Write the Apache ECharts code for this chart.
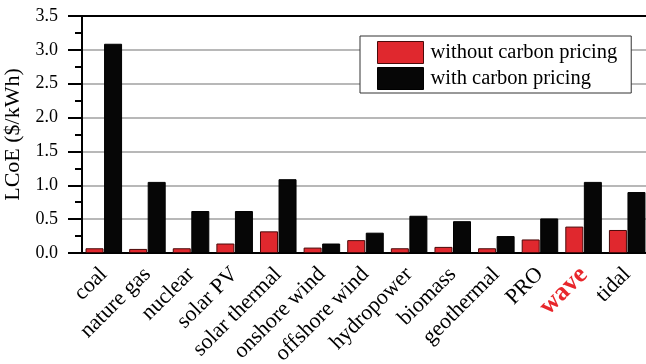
<!DOCTYPE html>
<html><head><meta charset="utf-8">
<script src="https://cdn.jsdelivr.net/npm/echarts@6/dist/echarts.min.js"></script>
<style>html,body{margin:0;padding:0;background:#fff}#c{width:646px;height:364px}</style>
</head><body><div id="c"></div>
<script>
var categories = ['coal','nature gas','nuclear','solar PV','solar thermal','onshore wind','offshore wind','hydropower','biomass','geothermal','PRO','wave','tidal'];
var withoutCarbon = [0.07,0.06,0.07,0.14,0.32,0.08,0.19,0.07,0.09,0.07,0.20,0.39,0.34];
var withCarbon = [3.09,1.05,0.62,0.62,1.09,0.14,0.30,0.55,0.47,0.25,0.51,1.05,0.90];
var seriesNames = ['without carbon pricing','with carbon pricing'];
var yTicks = {min:0, max:3.5, interval:0.5};

var serif = '"Liberation Serif","DejaVu Serif",serif';
var chart = echarts.init(document.getElementById('c'));
chart.setOption({
  animation:false,
  grid:{left:82, top:16, width:567, height:237, containLabel:false, outerBoundsMode:'none'},
  legend:{
    left:360, top:36, orient:'vertical', itemWidth:46, itemHeight:22, itemGap:3,
    icon:'rect',
    padding:[5,14,3,17], backgroundColor:'#fff', borderColor:'#333', borderWidth:1, borderRadius:0,
    textStyle:{fontFamily:serif, fontSize:20.5, color:'#000', padding:[0,0,0,2]},
    data:seriesNames, itemStyle:{borderWidth:1}
  },
  xAxis:[{
    type:'category', data:categories, position:'bottom',
    axisLine:{lineStyle:{color:'#000', width:2}},
    axisTick:{alignWithLabel:true, length:15, lineStyle:{color:'#000', width:2}},
    axisLabel:{rotate:45, margin:18, fontFamily:serif, fontSize:22, color:'#000',
      formatter:function(v){return v==='wave' ? '{w|wave}' : v;},
      rich:{w:{color:'#e8262b', fontWeight:'bold', fontSize:26, fontFamily:serif}}}
  },{
    type:'category', data:categories, position:'bottom', gridIndex:0,
    axisLine:{show:false},
    axisTick:{length:8, lineStyle:{color:'#000', width:2}},
    axisLabel:{show:false}
  },{
    type:'category', data:categories, position:'top', gridIndex:0,
    axisLine:{lineStyle:{color:'#000', width:2}},
    axisTick:{show:false}, axisLabel:{show:false}
  }],
  yAxis:{
    type:'value', min:yTicks.min, max:yTicks.max, interval:yTicks.interval,
    name:'LCoE ($/kWh)', nameLocation:'middle', nameGap:47,
    nameTextStyle:{fontFamily:serif, fontSize:22, color:'#000'},
    axisLine:{show:true, lineStyle:{color:'#000', width:2}},
    axisTick:{show:true, length:14, lineStyle:{color:'#000', width:2}},
    minorTick:{show:true, splitNumber:2, length:7, lineStyle:{color:'#000', width:2}},
    axisLabel:{margin:24, fontFamily:serif, fontSize:18, color:'#000',
      formatter:function(v){return v.toFixed(1);}},
    splitLine:{show:true, lineStyle:{color:'#a0a0a0', width:1.5}}
  },
  series:[{
    name:seriesNames[0], type:'bar', data:withoutCarbon, barWidth:18, barGap:'3%',
    itemStyle:{color:'#e0282e', borderColor:'#4a0a0a', borderWidth:1}
  },{
    name:seriesNames[1], type:'bar', data:withCarbon, barWidth:18,
    itemStyle:{color:'#060606', borderColor:'#000', borderWidth:1}
  }]
});
</script></body></html>
